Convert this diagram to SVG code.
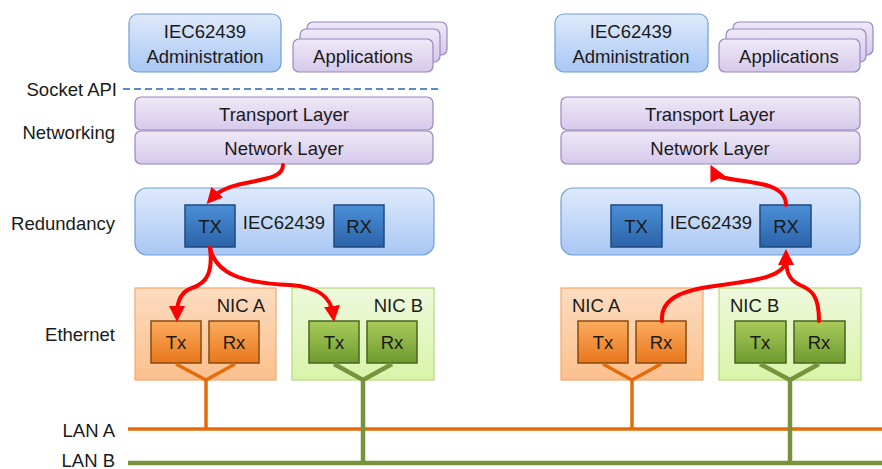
<svg xmlns="http://www.w3.org/2000/svg" width="882" height="469" viewBox="0 0 882 469">
<defs>
<linearGradient id="gBlueL" x1="0" y1="0" x2="0" y2="1"><stop offset="0" stop-color="#dfeafb"/><stop offset="1" stop-color="#a8c7f4"/></linearGradient>
<linearGradient id="gPur" x1="0" y1="0" x2="0" y2="1"><stop offset="0" stop-color="#eee9f6"/><stop offset="1" stop-color="#d6c9ec"/></linearGradient>
<linearGradient id="gBlue" x1="0" y1="0" x2="0" y2="1"><stop offset="0" stop-color="#4b8fd8"/><stop offset="1" stop-color="#2b63a8"/></linearGradient>
<linearGradient id="gOr" x1="0" y1="0" x2="0" y2="1"><stop offset="0" stop-color="#fbac5e"/><stop offset="1" stop-color="#e8771c"/></linearGradient>
<linearGradient id="gGr" x1="0" y1="0" x2="0" y2="1"><stop offset="0" stop-color="#a8cc5c"/><stop offset="1" stop-color="#6f9a2e"/></linearGradient>
<linearGradient id="gNicA" x1="0" y1="0" x2="0" y2="1"><stop offset="0" stop-color="#fcdcc0"/><stop offset="1" stop-color="#fbc08d"/></linearGradient>
<linearGradient id="gNicB" x1="0" y1="0" x2="0" y2="1"><stop offset="0" stop-color="#eef8dd"/><stop offset="1" stop-color="#d9f4a8"/></linearGradient>
<marker id="ah" viewBox="0 0 10 10" refX="5" refY="5" markerWidth="4" markerHeight="4" orient="auto" markerUnits="strokeWidth"><path d="M0,0 L10,5 L0,10 z" fill="#ff0000"/></marker>
</defs>
<style>
text{font-family:"Liberation Sans",Arial,sans-serif;font-size:18.5px;fill:#1a1a1a}
.c{text-anchor:middle}
.r{text-anchor:end}
.admin{fill:url(#gBlueL);stroke:#6f9fd8;stroke-width:1.2}
.pur{fill:url(#gPur);stroke:#9a86c0;stroke-width:1.2}
.red{fill:url(#gBlueL);stroke:#6f9fd8;stroke-width:1.2}
.bb{fill:url(#gBlue);stroke:#1e4a7d;stroke-width:1.5}
.ob{fill:url(#gOr);stroke:#8a4a10;stroke-width:1.5}
.gb{fill:url(#gGr);stroke:#4a6420;stroke-width:1.5}
.nica{fill:url(#gNicA);stroke:#f6a96a;stroke-width:1.2}
.nicb{fill:url(#gNicB);stroke:#b5d97a;stroke-width:1.2}
.lo{stroke:#e46c0a;stroke-width:3.5;fill:none}
.lg{stroke:#77933c;stroke-width:4.5;fill:none}
.arr{stroke:#ff0000;stroke-width:4;fill:none;stroke-linecap:round}
</style>

<g id="labels">
<text class="r" x="117" y="96">Socket API</text>
<text class="r" x="115" y="139">Networking</text>
<text class="r" x="115" y="230">Redundancy</text>
<text class="r" x="115" y="341">Ethernet</text>
<text class="r" x="115" y="437">LAN A</text>
<text class="r" x="115" y="467">LAN B</text>
</g>
<line x1="123" y1="89" x2="441" y2="89" stroke="#5b8ac6" stroke-width="2" stroke-dasharray="7,4"/>

<!-- Left stack -->
<g id="L-admin"><rect class="admin" x="129" y="14" width="152" height="58" rx="9"/><text class="c" x="205" y="38">IEC62439</text><text class="c" x="205" y="63">Administration</text></g>
<g id="L-apps">
<rect class="pur" x="307" y="22" width="140" height="33" rx="6"/>
<rect class="pur" x="300" y="29" width="140" height="33" rx="6"/>
<rect class="pur" x="293" y="39" width="140" height="33" rx="6"/>
<text class="c" x="363" y="63">Applications</text></g>
<g id="L-transport"><rect class="pur" x="135" y="97" width="298" height="33" rx="6"/><text class="c" x="284" y="121">Transport Layer</text></g>
<g id="L-network"><rect class="pur" x="135" y="131" width="298" height="33" rx="6"/><text class="c" x="284" y="155">Network Layer</text></g>
<g id="L-red"><rect class="red" x="135" y="188" width="299" height="67" rx="12"/><text class="c" x="284" y="229">IEC62439</text></g>
<g id="L-TX"><rect class="bb" x="185" y="205" width="50" height="42"/><text class="c" x="210" y="233">TX</text></g>
<g id="L-RX"><rect class="bb" x="334" y="205" width="50" height="42"/><text class="c" x="359" y="233">RX</text></g>
<g id="L-nicA"><rect class="nica" x="135" y="288" width="141" height="92"/><text class="r" x="265" y="312">NIC A</text></g>
<g id="L-nicA-tx"><rect class="ob" x="151" y="321" width="50" height="42"/><text class="c" x="176" y="349">Tx</text></g>
<g id="L-nicA-rx"><rect class="ob" x="209" y="321" width="50" height="42"/><text class="c" x="234" y="349">Rx</text></g>
<g id="L-nicB"><rect class="nicb" x="292" y="288" width="142" height="92"/><text class="r" x="423" y="312">NIC B</text></g>
<g id="L-nicB-tx"><rect class="gb" x="309" y="321" width="50" height="42"/><text class="c" x="334" y="349">Tx</text></g>
<g id="L-nicB-rx"><rect class="gb" x="367" y="321" width="50" height="42"/><text class="c" x="392" y="349">Rx</text></g>

<!-- Right stack -->
<g id="R-admin"><rect class="admin" x="555" y="14" width="153" height="58" rx="9"/><text class="c" x="631" y="38">IEC62439</text><text class="c" x="631" y="63">Administration</text></g>
<g id="R-apps">
<rect class="pur" x="733" y="22" width="140" height="33" rx="6"/>
<rect class="pur" x="726" y="29" width="140" height="33" rx="6"/>
<rect class="pur" x="719" y="39" width="141" height="33" rx="6"/>
<text class="c" x="789" y="63">Applications</text></g>
<g id="R-transport"><rect class="pur" x="561" y="97" width="299" height="33" rx="6"/><text class="c" x="710" y="121">Transport Layer</text></g>
<g id="R-network"><rect class="pur" x="561" y="131" width="299" height="33" rx="6"/><text class="c" x="710" y="155">Network Layer</text></g>
<g id="R-red"><rect class="red" x="561" y="188" width="299" height="67" rx="12"/><text class="c" x="711" y="229">IEC62439</text></g>
<g id="R-TX"><rect class="bb" x="611" y="205" width="51" height="42"/><text class="c" x="636" y="233">TX</text></g>
<g id="R-RX"><rect class="bb" x="760" y="205" width="51" height="42"/><text class="c" x="786" y="233">RX</text></g>
<g id="R-nicA"><rect class="nica" x="561" y="288" width="142" height="92"/><text x="572" y="312">NIC A</text></g>
<g id="R-nicA-tx"><rect class="ob" x="578" y="321" width="50" height="42"/><text class="c" x="603" y="349">Tx</text></g>
<g id="R-nicA-rx"><rect class="ob" x="636" y="321" width="50" height="42"/><text class="c" x="661" y="349">Rx</text></g>
<g id="R-nicB"><rect class="nicb" x="719" y="288" width="142" height="92"/><text x="730" y="312">NIC B</text></g>
<g id="R-nicB-tx"><rect class="gb" x="735" y="321" width="51" height="42"/><text class="c" x="760" y="349">Tx</text></g>
<g id="R-nicB-rx"><rect class="gb" x="794" y="321" width="51" height="42"/><text class="c" x="819" y="349">Rx</text></g>

<g id="lans">
<line class="lo" x1="128" y1="429" x2="882" y2="429" stroke-width="4"/>
<line class="lg" x1="128" y1="463" x2="882" y2="463" stroke-width="5"/>
<polyline class="lo" points="176,364 206,380 235,364"/>
<line class="lo" x1="206" y1="380" x2="206" y2="429"/>
<polyline class="lg" points="334,364 363,380 392,364"/>
<line class="lg" x1="363" y1="380" x2="363" y2="463"/>
<polyline class="lo" points="603,364 632,380 661,364"/>
<line class="lo" x1="632" y1="380" x2="632" y2="429"/>
<polyline class="lg" points="760,364 790,380 819,364"/>
<line class="lg" x1="790" y1="380" x2="790" y2="463"/>
</g>

<g id="connectors">
<path class="arr" marker-end="url(#ah)" d="M283,165 C283,186 232,176 212,198"/>
<path class="arr" marker-end="url(#ah)" d="M210,248 C213,272 207,283 192,288 C180,292 177,303 177,314"/>
<path class="arr" marker-end="url(#ah)" d="M210,248 C216,274 242,283 290,285 C320,287 331,298 333,314"/>
<path class="arr" d="M662,321 C660,296 688,289 722,285 C760,280 782,276 786,262"/>
<path class="arr" marker-end="url(#ah)" d="M819,321 C819,296 812,290 800,285 C789,280 786,272 786,257"/>
<path class="arr" marker-end="url(#ah)" d="M786,205 C786,186 760,183 737,180 C722,178 716,176 714,172"/>
</g>
</svg>
